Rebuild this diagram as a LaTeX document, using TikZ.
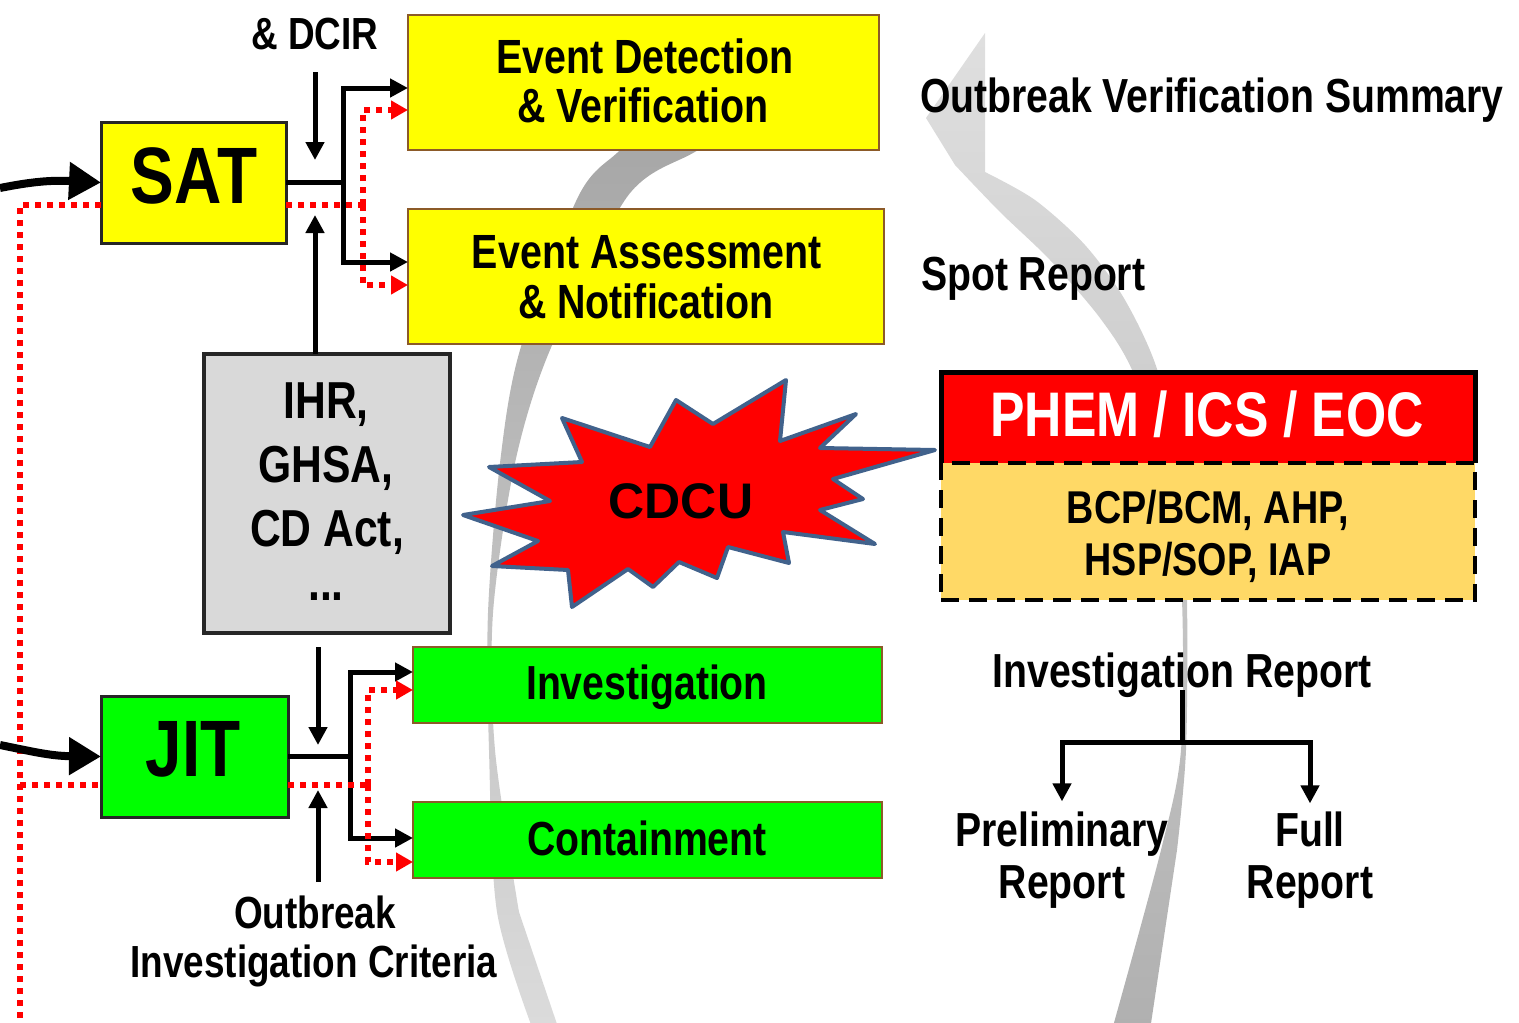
\documentclass[tikz,border=0pt]{standalone}
\usepackage{fontspec}
\usetikzlibrary{arrows.meta,calc}
\newfontfamily\nf{Liberation Sans}[FakeStretch=0.82]
\newfontfamily\af{Liberation Sans}
\definecolor{byel}{HTML}{FFFF00}
\definecolor{bgrn}{HTML}{00FF00}
\definecolor{bbrown}{RGB}{140,90,40}
\definecolor{lawgray}{HTML}{D9D9D9}
\definecolor{bcpfill}{HTML}{FFD966}
\definecolor{starblue}{RGB}{65,98,140}
\begin{document}
\begin{tikzpicture}[x=1pt,y=-1pt,
  boxbase/.style={rectangle,inner sep=0pt,outer sep=0pt},
  ybox/.style={boxbase,fill=byel,draw=bbrown,line width=2pt},
  gbox/.style={boxbase,fill=bgrn,draw=bbrown,line width=2pt},
  kybox/.style={boxbase,fill=byel,draw=black!85,line width=3pt},
  kgbox/.style={boxbase,fill=bgrn,draw=black!85,line width=3pt},
  lawbox/.style={boxbase,fill=lawgray,draw=black!85,line width=4pt},
  txt/.style={anchor=base,inner sep=0pt,outer sep=0pt},
  fa/.style={txt,font=\nf\bfseries\fontsize{80}{82}\selectfont},
  fb/.style={txt,font=\nf\bfseries\fontsize{52}{54}\selectfont},
  fc/.style={txt,font=\nf\bfseries\fontsize{48}{50}\selectfont},
  fd/.style={txt,font=\nf\bfseries\fontsize{47.8}{49}\selectfont},
  fe/.style={txt,font=\nf\bfseries\fontsize{45}{47}\selectfont},
  ff/.style={txt,font=\nf\bfseries\fontsize{46}{48}\selectfont},
  conn/.style={line width=5pt,black},
  arr/.style={-{Triangle[length=18pt,width=18pt]}},
  rdot/.style={red,line width=6pt,dash pattern=on 6pt off 6pt},
  rarr/.style={-{Triangle[length=17pt,width=18pt]}},
  bigarr/.style={line width=8pt,-{Triangle[length=32pt,width=36pt]}},
]
\useasboundingbox (0,0) rectangle (1519,1023);
\clip (0,0) rectangle (1519,1023);

% grey circular arrow (background)
\shade[top color=gray!70,bottom color=gray!28]
  plot[smooth] coordinates {(660,120) (617,153) (578,197) (520,350) (500,463) (488,613) (489,750) (497,912) (533,1030)}
  -- (559,1030)
  -- plot[smooth] coordinates {(519,912) (495,750) (493,613) (515,463) (550,350) (627,197) (693,153) (760,120)}
  -- cycle;
\shade[top color=gray!25,bottom color=gray!62]
  (985,33) -- (926,118)
  -- plot[smooth] coordinates {(955,165) (1000,212) (1050,260) (1100,318) (1133,372) (1171,480) (1182,600) (1181,750) (1161,850) (1112,1030)}
  -- (1150,1030)
  -- plot[smooth] coordinates {(1177,850) (1186,750) (1187,600) (1181,480) (1158,372) (1125,300) (1085,245) (1035,200) (985,172)}
  -- cycle;

% boxes
\node[kybox,minimum width=185,minimum height=121] (sat) at (193.5,182.5) {};
\node[ybox,minimum width=471,minimum height=135] (ed) at (643.5,82.5) {};
\node[ybox,minimum width=476,minimum height=135] (ea) at (646,276.5) {};
\node[lawbox,minimum width=246,minimum height=279] (law) at (327,493.5) {};
\node[kgbox,minimum width=187,minimum height=121] (jit) at (194.5,756.5) {};
\node[gbox,minimum width=469,minimum height=76] (inv) at (647.5,685) {};
\node[gbox,minimum width=469,minimum height=76] (con) at (647.5,840) {};
\node[boxbase,fill=red,minimum width=534,minimum height=91] (phem) at (1208,417.5) {};
\node[boxbase,fill=bcpfill,draw=black,line width=4pt,dash pattern=on 18pt off 10pt,minimum width=534,minimum height=137] (bcp) at (1208,531.5) {};
\draw[line width=5pt] (phem.south west) -- (phem.north west) -- (phem.north east) -- (phem.south east);

% CDCU star
\filldraw[fill=red,draw=starblue,line width=4pt,line join=round]
  (562,418) -- (650,447) -- (676,400) -- (713,424) -- (786,380) -- (780,441) -- (856,414) -- (820,448)
  -- (935,450) -- (833,479) -- (863,499) -- (820,510) -- (875,544) -- (783,532) -- (789,563) -- (728,547)
  -- (717,578) -- (679,562) -- (653,587) -- (628,569) -- (572,607) -- (568,570) -- (492,566) -- (538,541)
  -- (463,515) -- (550,501) -- (489,467) -- (582,462) -- cycle;

% texts
\node[fe] (dcir) at (315,49) {\& DCIR};
\node[fa] (satt) at (194,203) {SAT};
\node[fc] (ed1) at (645,73) {Event Detection};
\node[fc] (ed2) at (643,122) {\& Verification};
\node[fc] (ea1) at (647,268) {Event Assessment};
\node[fc] (ea2) at (646,318) {\& Notification};
\node[fb] (l1) at (326,418) {IHR,};
\node[fb] (l2) at (326,482) {GHSA,};
\node[fb] (l3) at (327,546) {CD Act,};
\node[fb] (l4) at (326,600) {...};
\node[fa] (jitt) at (193,776) {JIT};
\node[fd] (invt) at (647,699) {Investigation};
\node[fd] (cont) at (647,855) {Containment};
\node[txt,font=\af\bfseries\fontsize{50}{52}\selectfont] (cdcut) at (681,518) {CDCU};
\node[txt,text=white,font=\nf\bfseries\fontsize{63}{65}\selectfont] (phemt) at (1207,436) {PHEM / ICS / EOC};
\node[ff] (bcp1) at (1208,523) {BCP/BCM, AHP,};
\node[ff] (bcp2) at (1208,575) {HSP/SOP, IAP};
\node[fd,anchor=base west] (ovs) at (920,112) {Outbreak Verification Summary};
\node[fd,anchor=base west] (spot) at (921,290) {Spot Report};
\node[fd] (irep) at (1182,687) {Investigation Report};
\node[fd] (pre1) at (1062,846) {Preliminary};
\node[fd] (pre2) at (1062,898) {Report};
\node[fd] (full1) at (1310,846) {Full};
\node[fd] (full2) at (1310,898) {Report};
\node[fe] (oic1) at (315,928) {Outbreak};
\node[fe] (oic2) at (314,977) {Investigation Criteria};

% coordinates
\coordinate (sj) at (343,182.5);
\coordinate (rj) at (363,205);
\coordinate (jj) at (350,756.5);
\coordinate (rjj) at (368,785);
\coordinate (dcirtip) at (315,160);
\coordinate (uptip) at (315,215);
\coordinate (dntip) at (318,745);
\coordinate (oicup) at (318,882);
\coordinate (uptip2) at (318,790);
\coordinate (irj) at (1182,742);
\coordinate (lin1) at (0,188);
\coordinate (lin2) at (0,745);
\coordinate (rl) at (20,1030);
\coordinate (rl1) at (20,205);
\coordinate (rl2) at (20,785);

% left inputs
\draw[rdot] (rl) -- (rl1) -- (sat.west |- rl1);
\draw[rdot] (rl2) -- (jit.west |- rl2);
\draw[bigarr] (lin1) .. controls (30,182) and (50,180) .. (sat.west);
\draw[bigarr] (lin2) .. controls (30,751) and (50,756) .. (jit.west);

% SAT branch
\draw[conn] (sat.east) -- (sj);
\draw[conn,arr] (sj) |- (ed.west |- 0,88);
\draw[conn,arr] (sj) |- (ea.west |- 0,262);
\draw[rdot] (sat.east |- rj) -- (rj);
\draw[rdot,rarr] (rj) |- (ed.west |- 0,110);
\draw[rdot,rarr] (rj) |- (ea.west |- 0,285);
\draw[conn,arr] ($(dcir.base)+(0,23)$) -- (dcirtip);
\draw[conn,arr] (law.north -| uptip) -- (uptip);

% JIT branch
\draw[conn] (jit.east) -- (jj);
\draw[conn,arr] (jj) |- (inv.west |- 0,672);
\draw[conn,arr] (jj) |- (con.west |- 0,838);
\draw[rdot] (jit.east |- rjj) -- (rjj);
\draw[rdot,rarr] (rjj) |- (inv.west |- 0,690);
\draw[rdot,rarr] (rjj) |- (con.west |- 0,862);
\draw[conn,arr] ($(law.south -| dntip)+(0,14)$) -- (dntip);
\draw[conn,arr] (oicup) -- (uptip2);

% report tree
\draw[conn] ($(irep.base)+(0,3)$) -- (irj);
\draw[conn,arr] (irj) -| ($(pre1.north)+(0,-10)$);
\draw[conn,arr] (irj) -| ($(full1.north)+(0,-8)$);
\end{tikzpicture}
\end{document}
